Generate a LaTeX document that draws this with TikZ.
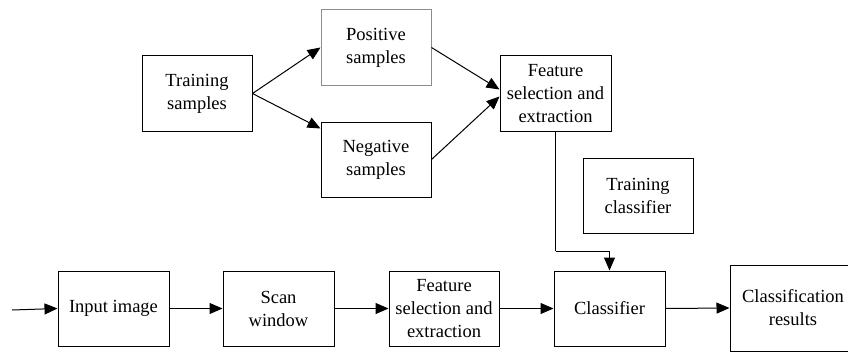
\documentclass[tikz,border=0pt]{standalone}
\usepackage{fontspec}
\setmainfont{Liberation Serif}
\usetikzlibrary{arrows.meta,calc}
\begin{document}
\begin{tikzpicture}[x=1pt,y=-1pt,
  box/.style={draw, line width=1pt, minimum width=110pt, minimum height=75pt,
    inner sep=1pt, align=center, font=\fontsize{18.5}{23}\selectfont},
  arr/.style={line width=1pt, -{Triangle[length=13pt,width=11pt]}}]
\useasboundingbox (0,0) rectangle (848,353);
\clip (0,0) rectangle (848,353);
\node[box] (train) at (197,93.5) {Training\\samples};
\node[box, draw=black!45] (pos) at (376,47.5) {Positive\\samples};
\node[box] (neg) at (376,159.5) {Negative\\samples};
\node[box, minimum width=111pt] (feat1) at (555.5,93.5) {Feature\\selection and\\extraction};
\node[box] (trcl) at (638,195.5) {Training\\classifier};
\node[box, minimum width=111pt] (input) at (113.5,308.5) {Input image};
\node[box, minimum width=111pt] (scan) at (278.5,308.5) {Scan\\window};
\node[box] (feat2) at (444,308.5) {Feature\\selection and\\extraction};
\node[box, minimum width=111pt] (cls) at (609.5,308.5) {Classifier};
\node[box, minimum width=126pt, minimum height=86pt] (res) at (793,308) {Classification\\results};
\coordinate (src) at (12,310);
\coordinate (bend) at (555.5,251);
\draw[arr] (train.east) -- (pos.west);
\draw[arr] (train.east) -- ([yshift=-7pt]neg.north west);
\draw[arr] (pos.east) -- ([yshift=4pt]feat1.west);
\draw[arr] (neg.east) -- ([yshift=-3pt]feat1.west);
\draw[line width=1pt] (feat1.south) -- (bend);
\draw[arr] (bend) -| (cls.north);
\draw[arr] (src) -- (input.west);
\draw[arr] (input.east) -- (scan.west);
\draw[arr] (scan.east) -- (feat2.west);
\draw[arr] (feat2.east) -- (cls.west);
\draw[arr] (cls.east) -- (res.west);
\end{tikzpicture}
\end{document}
